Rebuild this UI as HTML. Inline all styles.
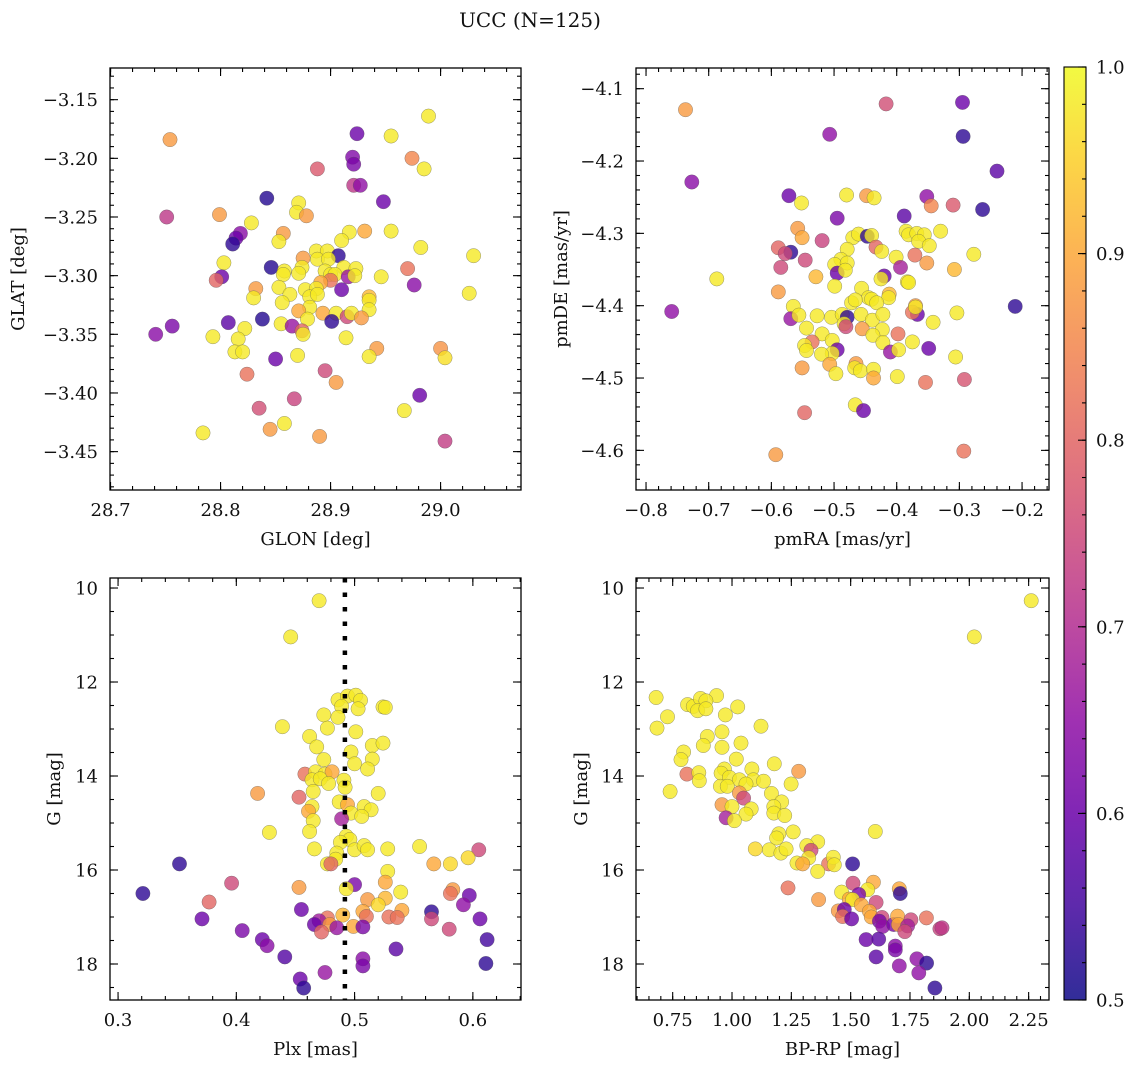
<!DOCTYPE html>
<html><head><meta charset="utf-8">
<style>
html,body{margin:0;padding:0;background:#fff;}
svg{display:block;font-family:"DejaVu Serif","Liberation Serif",serif;}
</style></head>
<body>
<svg id="fig" width="1136" height="1067" viewBox="0 0 1136 1067" xmlns="http://www.w3.org/2000/svg">
<rect width="1136" height="1067" fill="#fff"/>
<text x="530" y="27" font-size="20" text-anchor="middle" fill="#111">UCC (N=125)</text>
<g id="layer"></g>
</svg>
<script>
// ---- Panel 1: GLON vs GLAT ----
const glonVals=[28.754,28.989,28.924,28.955,28.974,28.985,28.888,28.920,28.921,28.921,28.927,28.842,28.948,28.751,28.799,28.871,28.869,28.878,28.828,28.857,28.853,28.818,28.814,28.811,28.917,28.910,28.931,28.955,28.982,29.030,28.887,28.897,28.907,28.875,28.888,28.898,28.803,28.846,28.874,28.858,28.871,28.857,28.895,28.912,28.923,28.900,28.904,28.900,28.916,28.922,28.946,28.970,28.801,28.796,28.891,28.976,29.026,28.832,28.853,28.910,28.877,28.887,28.830,28.863,28.881,28.888,28.935,28.935,28.856,28.881,28.935,28.871,28.893,28.905,28.915,28.919,28.928,28.879,28.838,28.807,28.901,28.855,28.865,28.874,28.875,28.756,28.741,28.793,28.822,28.816,28.914,28.942,28.935,28.813,28.820,28.850,28.870,29.000,29.004,28.824,28.895,28.905,28.981,28.867,28.967,28.835,28.858,28.845,28.784,28.890,29.004];
const glatVals=[-3.184,-3.164,-3.179,-3.181,-3.200,-3.209,-3.209,-3.199,-3.205,-3.223,-3.223,-3.234,-3.237,-3.250,-3.248,-3.238,-3.246,-3.249,-3.255,-3.264,-3.271,-3.264,-3.268,-3.273,-3.263,-3.270,-3.262,-3.262,-3.276,-3.283,-3.279,-3.279,-3.283,-3.285,-3.286,-3.286,-3.289,-3.293,-3.293,-3.296,-3.298,-3.299,-3.296,-3.293,-3.294,-3.299,-3.299,-3.304,-3.301,-3.300,-3.301,-3.294,-3.301,-3.304,-3.306,-3.308,-3.315,-3.311,-3.310,-3.312,-3.312,-3.311,-3.319,-3.316,-3.318,-3.316,-3.318,-3.321,-3.323,-3.327,-3.329,-3.330,-3.332,-3.332,-3.335,-3.332,-3.336,-3.337,-3.337,-3.340,-3.339,-3.341,-3.343,-3.347,-3.350,-3.343,-3.350,-3.352,-3.345,-3.354,-3.353,-3.362,-3.369,-3.365,-3.365,-3.371,-3.368,-3.362,-3.370,-3.384,-3.381,-3.391,-3.402,-3.405,-3.415,-3.413,-3.426,-3.431,-3.434,-3.437,-3.441];
const prob1=[0.88,0.98,0.6,0.98,0.85,0.98,0.78,0.63,0.62,0.72,0.65,0.52,0.6,0.72,0.88,0.98,0.98,0.88,0.98,0.88,0.98,0.64,0.6,0.53,0.98,0.98,0.9,0.98,0.98,0.98,0.98,0.98,0.53,0.88,0.98,0.98,0.98,0.52,0.98,0.98,0.98,0.98,0.98,0.98,0.98,0.98,0.98,0.82,0.66,0.98,0.98,0.82,0.6,0.8,0.9,0.64,0.98,0.88,0.98,0.6,0.98,0.98,0.98,0.98,0.98,0.98,0.92,0.98,0.98,0.98,0.98,0.9,0.9,0.98,0.75,0.98,0.88,0.98,0.52,0.58,0.53,0.98,0.66,0.8,0.98,0.62,0.64,0.98,0.98,0.98,0.98,0.88,0.98,0.98,0.98,0.6,0.98,0.87,0.97,0.82,0.75,0.88,0.6,0.74,0.98,0.76,0.98,0.88,0.98,0.88,0.73];
const p1XTicks=[28.7,28.8,28.9,29.0];
const p1YTicks=[-3.15,-3.20,-3.25,-3.30,-3.35,-3.40,-3.45];

// ---- Panel 2: pmRA vs pmDE ----
const pmraVals=[-0.737,-0.417,-0.295,-0.507,-0.294,-0.240,-0.727,-0.572,-0.552,-0.480,-0.448,-0.436,-0.352,-0.345,-0.310,-0.495,-0.388,-0.263,-0.558,-0.551,-0.519,-0.470,-0.461,-0.447,-0.440,-0.385,-0.381,-0.368,-0.356,-0.365,-0.348,-0.330,-0.589,-0.569,-0.578,-0.433,-0.424,-0.479,-0.546,-0.585,-0.489,-0.499,-0.479,-0.401,-0.371,-0.352,-0.394,-0.277,-0.308,-0.687,-0.495,-0.482,-0.529,-0.420,-0.425,-0.589,-0.499,-0.383,-0.381,-0.456,-0.445,-0.412,-0.413,-0.472,-0.466,-0.440,-0.432,-0.759,-0.211,-0.370,-0.367,-0.375,-0.370,-0.304,-0.565,-0.569,-0.556,-0.527,-0.504,-0.487,-0.479,-0.484,-0.481,-0.457,-0.439,-0.422,-0.423,-0.455,-0.544,-0.519,-0.438,-0.398,-0.342,-0.422,-0.375,-0.349,-0.535,-0.547,-0.544,-0.503,-0.495,-0.503,-0.520,-0.410,-0.397,-0.306,-0.551,-0.507,-0.497,-0.465,-0.467,-0.458,-0.437,-0.437,-0.399,-0.354,-0.292,-0.466,-0.453,-0.547,-0.593,-0.293];
const pmdeVals=[-4.129,-4.121,-4.119,-4.163,-4.166,-4.214,-4.229,-4.248,-4.258,-4.247,-4.248,-4.251,-4.249,-4.262,-4.261,-4.279,-4.276,-4.267,-4.293,-4.306,-4.310,-4.306,-4.301,-4.304,-4.303,-4.297,-4.302,-4.300,-4.302,-4.311,-4.317,-4.297,-4.320,-4.326,-4.328,-4.319,-4.325,-4.322,-4.337,-4.347,-4.336,-4.343,-4.341,-4.333,-4.330,-4.341,-4.347,-4.329,-4.350,-4.363,-4.355,-4.351,-4.360,-4.359,-4.363,-4.381,-4.373,-4.367,-4.368,-4.376,-4.389,-4.384,-4.389,-4.396,-4.392,-4.391,-4.396,-4.408,-4.401,-4.400,-4.412,-4.409,-4.402,-4.410,-4.401,-4.418,-4.413,-4.414,-4.416,-4.412,-4.416,-4.425,-4.429,-4.412,-4.420,-4.412,-4.433,-4.432,-4.431,-4.439,-4.441,-4.439,-4.423,-4.451,-4.450,-4.459,-4.450,-4.455,-4.462,-4.448,-4.461,-4.466,-4.467,-4.464,-4.461,-4.471,-4.486,-4.481,-4.494,-4.480,-4.486,-4.490,-4.488,-4.500,-4.498,-4.506,-4.502,-4.537,-4.545,-4.548,-4.606,-4.601];
const prob2=[0.88,0.76,0.6,0.65,0.53,0.58,0.64,0.6,0.98,0.98,0.88,0.98,0.65,0.85,0.78,0.62,0.58,0.53,0.88,0.9,0.74,0.98,0.98,0.53,0.98,0.98,0.98,0.98,0.98,0.98,0.98,0.98,0.8,0.53,0.75,0.8,0.98,0.98,0.75,0.75,0.98,0.98,0.98,0.98,0.82,0.88,0.68,0.98,0.92,0.98,0.6,0.98,0.92,0.6,0.98,0.88,0.98,0.98,0.98,0.98,0.98,0.92,0.98,0.98,0.98,0.98,0.98,0.65,0.53,0.88,0.6,0.82,0.98,0.98,0.98,0.66,0.98,0.98,0.98,0.98,0.53,0.98,0.75,0.98,0.98,0.98,0.98,0.88,0.98,0.98,0.98,0.82,0.98,0.98,0.98,0.6,0.82,0.98,0.98,0.98,0.6,0.98,0.98,0.66,0.98,0.98,0.88,0.9,0.98,0.88,0.98,0.98,0.98,0.9,0.98,0.82,0.77,0.98,0.6,0.8,0.88,0.82];
const p2XTicks=[-0.8,-0.7,-0.6,-0.5,-0.4,-0.3,-0.2];
const p2YTicks=[-4.1,-4.2,-4.3,-4.4,-4.5,-4.6];

// ---- Panel 3: Plx vs G ----
const plxVals=[0.470,0.446,0.486,0.494,0.501,0.505,0.489,0.503,0.524,0.526,0.474,0.486,0.439,0.477,0.501,0.462,0.515,0.524,0.468,0.497,0.474,0.515,0.500,0.511,0.458,0.467,0.475,0.481,0.464,0.471,0.478,0.491,0.492,0.465,0.418,0.453,0.520,0.487,0.494,0.464,0.461,0.508,0.514,0.497,0.506,0.465,0.489,0.428,0.462,0.493,0.496,0.488,0.466,0.500,0.508,0.511,0.528,0.555,0.485,0.484,0.477,0.480,0.605,0.596,0.567,0.581,0.352,0.528,0.396,0.500,0.453,0.493,0.526,0.539,0.321,0.583,0.581,0.597,0.511,0.526,0.520,0.592,0.377,0.455,0.507,0.540,0.565,0.565,0.490,0.529,0.536,0.510,0.606,0.371,0.477,0.470,0.466,0.479,0.485,0.499,0.507,0.472,0.580,0.405,0.422,0.426,0.612,0.535,0.441,0.507,0.507,0.611,0.475,0.454,0.457];
const gmag3=[10.27,11.04,12.38,12.30,12.28,12.39,12.52,12.57,12.53,12.54,12.70,12.75,12.95,12.98,13.06,13.16,13.35,13.30,13.38,13.49,13.65,13.64,13.74,13.85,13.96,13.91,13.96,13.91,14.08,14.06,14.16,14.09,14.24,14.33,14.37,14.45,14.37,14.55,14.61,14.65,14.75,14.65,14.72,14.79,14.86,14.95,14.91,15.20,15.18,15.28,15.35,15.41,15.55,15.57,15.48,15.57,15.55,15.50,15.64,15.77,15.87,15.87,15.57,15.74,15.87,15.87,15.87,16.03,16.28,16.31,16.37,16.40,16.26,16.47,16.50,16.42,16.50,16.54,16.63,16.60,16.74,16.74,16.68,16.84,16.88,16.86,16.89,17.04,16.96,17.00,17.01,16.99,17.04,17.04,17.02,17.08,17.16,17.16,17.23,17.20,17.21,17.32,17.26,17.29,17.48,17.61,17.48,17.68,17.85,17.89,18.04,17.99,18.18,18.32,18.51];
const prob3=[0.98,0.98,0.98,0.98,0.98,0.98,0.98,0.98,0.98,0.98,0.98,0.98,0.98,0.98,0.98,0.98,0.98,0.98,0.98,0.98,0.98,0.98,0.98,0.98,0.82,0.98,0.98,0.9,0.98,0.98,0.98,0.98,0.98,0.98,0.88,0.8,0.98,0.98,0.9,0.98,0.9,0.98,0.98,0.98,0.98,0.98,0.68,0.98,0.98,0.98,0.98,0.98,0.98,0.98,0.98,0.98,0.98,0.98,0.98,0.98,0.98,0.8,0.75,0.96,0.9,0.96,0.53,0.98,0.75,0.62,0.88,0.98,0.9,0.98,0.53,0.88,0.82,0.6,0.88,0.92,0.96,0.65,0.8,0.6,0.9,0.9,0.53,0.75,0.92,0.82,0.82,0.82,0.6,0.6,0.82,0.67,0.6,0.88,0.66,0.9,0.62,0.8,0.75,0.62,0.6,0.64,0.55,0.58,0.57,0.64,0.62,0.53,0.66,0.6,0.53];
const p3XTicks=[0.3,0.4,0.5,0.6];
const gTicks=[10,12,14,16,18];
const plxMedian=0.4918;

// ---- Panel 4: BP-RP vs G ----
const bprpVals=[2.261,2.021,0.680,0.935,0.813,0.837,0.867,0.890,0.855,0.890,1.024,0.728,0.972,0.684,1.122,0.958,0.896,1.038,0.879,0.958,0.796,0.785,1.018,1.178,0.968,0.954,1.084,1.281,0.810,0.860,0.862,0.989,1.031,1.090,1.133,1.249,1.059,0.951,0.980,0.739,1.031,1.049,1.166,1.209,0.958,1.000,1.176,1.081,1.059,1.176,1.222,0.975,1.010,1.604,1.197,1.258,1.188,1.361,1.098,1.157,1.206,1.228,1.315,1.333,1.323,1.274,1.298,1.407,1.427,1.431,1.361,1.508,1.236,1.365,1.510,1.596,1.572,1.462,1.705,1.709,1.534,1.607,1.494,1.508,1.545,1.579,1.448,1.473,1.466,1.504,1.587,1.632,1.621,1.635,1.681,1.698,1.701,1.754,1.740,1.728,1.819,1.876,1.885,1.565,1.618,1.688,1.688,1.607,1.705,1.779,1.820,1.787,1.855];
const gmag4=[10.27,11.04,12.33,12.29,12.48,12.52,12.35,12.40,12.61,12.57,12.53,12.74,12.70,12.98,12.94,13.06,13.16,13.30,13.35,13.39,13.49,13.65,13.64,13.74,13.85,13.94,13.85,13.90,13.96,13.93,14.10,14.03,14.08,14.08,14.11,14.17,14.17,14.22,14.22,14.33,14.36,14.47,14.37,14.55,14.61,14.65,14.65,14.70,14.81,14.79,14.84,14.89,14.95,15.18,15.23,15.19,15.32,15.40,15.55,15.57,15.64,15.55,15.48,15.58,15.74,15.85,15.87,15.87,15.73,15.89,16.03,15.87,16.38,16.63,16.28,16.26,16.42,16.47,16.40,16.50,16.52,16.69,16.62,16.63,16.74,16.88,16.87,16.84,16.99,17.04,17.00,17.01,17.09,17.20,17.16,16.98,17.16,17.06,17.19,17.31,17.02,17.25,17.23,17.48,17.47,17.62,17.70,17.85,18.04,17.89,17.98,18.19,18.51];
const prob4=[0.98,0.98,0.98,0.98,0.98,0.98,0.98,0.98,0.98,0.98,0.98,0.98,0.98,0.98,0.98,0.98,0.98,0.98,0.98,0.98,0.98,0.98,0.98,0.98,0.98,0.98,0.98,0.88,0.82,0.98,0.98,0.98,0.98,0.98,0.98,0.98,0.98,0.98,0.98,0.98,0.88,0.75,0.98,0.98,0.88,0.98,0.98,0.98,0.98,0.98,0.98,0.68,0.98,0.98,0.98,0.98,0.98,0.98,0.96,0.98,0.98,0.98,0.98,0.75,0.98,0.98,0.9,0.82,0.98,0.98,0.98,0.53,0.82,0.88,0.75,0.9,0.98,0.98,0.9,0.53,0.62,0.75,0.9,0.98,0.9,0.9,0.88,0.6,0.82,0.6,0.9,0.75,0.62,0.65,0.62,0.9,0.9,0.75,0.68,0.75,0.82,0.74,0.72,0.6,0.58,0.64,0.62,0.58,0.65,0.65,0.53,0.65,0.53];
const p4XTicks=[0.75,1.00,1.25,1.50,1.75,2.00,2.25];

// ---- Colorbar ----
const cbarTicks=[0.5,0.6,0.7,0.8,0.9,1.0];
const cbarMin=0.5, cbarMax=1.0;

const NS="http://www.w3.org/2000/svg";
const layer=document.getElementById('layer');
const FS=18;
function mk(tag,attrs,parent){const e=document.createElementNS(NS,tag);for(const k in attrs)e.setAttribute(k,attrs[k]);(parent||layer).appendChild(e);return e;}

const plasma=[[13,8,135],[65,4,157],[106,0,168],[143,13,164],[177,42,144],[204,71,120],[225,100,98],[242,132,75],[252,166,54],[252,206,37],[240,249,33]];
function cmap(v){let t=(v-cbarMin)/(cbarMax-cbarMin);t=Math.max(0,Math.min(1,t));const s=t*10,i=Math.min(9,Math.floor(s)),f=s-i;const a=plasma[i],b=plasma[i+1];return 'rgb('+[0,1,2].map(k=>Math.round(a[k]+(b[k]-a[k])*f)).join(',')+')';}
function fmtNum(v,d){const s=Math.abs(v).toFixed(d);return (v<0?'\u2212':'')+s;}

function panel(cfg){
  const {name,x0,y0,w,h,xd,yd,invY}=cfg;
  const g=mk('g',{});
  
  
  const sx=v=>x0+(v-xd[0])/(xd[1]-xd[0])*w;
  const sy=invY?(v=>y0+(v-yd[0])/(yd[1]-yd[0])*h):(v=>y0+h-(v-yd[0])/(yd[1]-yd[0])*h);
  const pts=mk('g',{},g);
  
  
  for(let i=0;i<cfg.xs.length;i++){
    const c=mk('circle',{cx:sx(cfg.xs[i]).toFixed(1),cy:sy(cfg.ys[i]).toFixed(1),r:7.2,fill:cmap(cfg.cs[i]),'fill-opacity':0.8,stroke:'#555','stroke-opacity':0.6,'stroke-width':0.5},pts);
    
    
  }
  if(cfg.vline!==undefined){
    const l=mk('line',{x1:sx(cfg.vline),x2:sx(cfg.vline),y1:y0,y2:y0+h,stroke:'#000','stroke-width':4.5,'stroke-dasharray':'4.5 10'},g);
    
    
  }
  const fr=mk('rect',{x:x0,y:y0,width:w,height:h,fill:'none',stroke:'#000','stroke-width':1.3},g);
  
  
  const tk=mk('g',{stroke:'#000','stroke-width':1.1},g);
  for(let v=Math.ceil(xd[0]/cfg.xminor-1e-9)*cfg.xminor;v<=xd[1]+1e-9;v+=cfg.xminor){const X=sx(v);mk('line',{x1:X,x2:X,y1:y0+h,y2:y0+h-4},tk);mk('line',{x1:X,x2:X,y1:y0,y2:y0+4},tk);}
  const ylo=Math.min(yd[0],yd[1]),yhi=Math.max(yd[0],yd[1]);
  for(let v=Math.ceil(ylo/cfg.yminor-1e-9)*cfg.yminor;v<=yhi+1e-9;v+=cfg.yminor){const Y=sy(v);mk('line',{x1:x0,x2:x0+4,y1:Y,y2:Y},tk);mk('line',{x1:x0+w,x2:x0+w-4,y1:Y,y2:Y},tk);}
  cfg.xticks.forEach(v=>{const X=sx(v);mk('line',{x1:X,x2:X,y1:y0+h,y2:y0+h-8},tk);mk('line',{x1:X,x2:X,y1:y0,y2:y0+8},tk);
    const t=mk('text',{x:X,y:y0+h+26,'font-size':FS,'text-anchor':'middle',fill:'#111'},g);t.textContent=fmtNum(v,cfg.xdec);
    });
  cfg.yticks.forEach(v=>{const Y=sy(v);mk('line',{x1:x0,x2:x0+8,y1:Y,y2:Y},tk);mk('line',{x1:x0+w,x2:x0+w-8,y1:Y,y2:Y},tk);
    const t=mk('text',{x:x0-12,y:Y+6.5,'font-size':FS,'text-anchor':'end',fill:'#111'},g);t.textContent=fmtNum(v,cfg.ydec);
    });
  const xl=mk('text',{x:x0+w/2,y:y0+h+55,'font-size':FS,'text-anchor':'middle',fill:'#111'},g);xl.textContent=cfg.xlabel;
  
  const yx=cfg.ylx,yy=y0+h/2;
  const yl=mk('text',{x:yx,y:yy,'font-size':FS,'text-anchor':'middle',fill:'#111',transform:'rotate(-90 '+yx+' '+yy+')'},g);yl.textContent=cfg.ylabel;
  
}

panel({name:'glon-glat-panel',x0:110,y0:68,w:411,h:422,xd:[28.6995,29.0731],yd:[-3.4827,-3.1230],xs:glonVals,ys:glatVals,cs:prob1,xticks:p1XTicks,yticks:p1YTicks,xminor:0.02,yminor:0.01,xdec:1,ydec:2,xlabel:'GLON [deg]',ylabel:'GLAT [deg]',ylx:24});
panel({name:'pm-panel',x0:636,y0:68,w:413,h:422,xd:[-0.8160,-0.1570],yd:[-4.6548,-4.0714],xs:pmraVals,ys:pmdeVals,cs:prob2,xticks:p2XTicks,yticks:p2YTicks,xminor:0.02,yminor:0.02,xdec:1,ydec:1,xlabel:'pmRA [mas/yr]',ylabel:'pmDE [mas/yr]',ylx:567});
panel({name:'plx-g-panel',x0:110,y0:578,w:411,h:422,xd:[0.2932,0.6407],yd:[9.787,18.766],invY:true,xs:plxVals,ys:gmag3,cs:prob3,xticks:p3XTicks,yticks:gTicks,xminor:0.02,yminor:0.5,xdec:1,ydec:0,xlabel:'Plx [mas]',ylabel:'G [mag]',ylx:60,vline:plxMedian});
panel({name:'cmd-panel',x0:636,y0:578,w:413,h:422,xd:[0.5954,2.3358],yd:[9.787,18.766],invY:true,xs:bprpVals,ys:gmag4,cs:prob4,xticks:p4XTicks,yticks:gTicks,xminor:0.05,yminor:0.5,xdec:2,ydec:0,xlabel:'BP-RP [mag]',ylabel:'G [mag]',ylx:587});

(function(){
  const cx=1064,cy=67,cw=22,ch=933;
  const g=mk('g',{});
  
  
  const defs=mk('defs',{},g);
  const lg=mk('linearGradient',{id:'cbg',x1:0,y1:1,x2:0,y2:0},defs);
  for(let i=0;i<=20;i++){const v=cbarMin+(cbarMax-cbarMin)*i/20;mk('stop',{offset:(i/20),'stop-color':cmap(v),'stop-opacity':0.85},lg);}
  const r=mk('rect',{x:cx,y:cy,width:cw,height:ch,fill:'url(#cbg)',stroke:'#000','stroke-width':1.1},g);
  
  
  const sy=v=>cy+ch-(v-cbarMin)/(cbarMax-cbarMin)*ch;
  for(let v=cbarMin;v<=cbarMax+1e-9;v+=0.02){mk('line',{x1:cx+cw,x2:cx+cw-4,y1:sy(v),y2:sy(v),stroke:'#000','stroke-width':1.1},g);}
  cbarTicks.forEach(v=>{const Y=sy(v);mk('line',{x1:cx+cw,x2:cx+cw-8,y1:Y,y2:Y,stroke:'#000','stroke-width':1.1},g);
    const t=mk('text',{x:cx+cw+10,y:Y+6.5,'font-size':FS,fill:'#111'},g);t.textContent=v.toFixed(1);
    });
})();
</script>
</body></html>
